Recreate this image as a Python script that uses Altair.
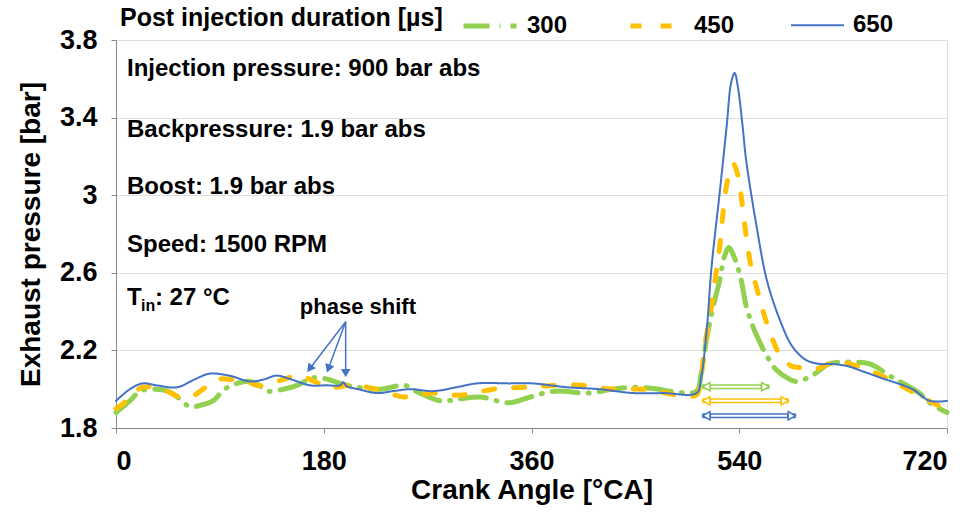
import math
import altair as alt
import pandas as pd

# Exhaust pressure [bar] vs crank angle [°CA], one trace per post-injection duration
ca_300 = [0, 12, 21, 34, 45, 53, 64, 75, 84, 94, 105, 116, 124, 131, 145, 157, 172, 184, 194,
          209, 229, 250, 260, 281, 298, 315, 341, 359, 380, 409, 430, 451, 470, 480, 503,
          507, 512, 518, 523, 527, 531, 535, 541, 546, 552, 558, 564, 572, 584, 590, 603,
          618, 638, 653, 673, 696, 705, 720]
p_300 = [1.88, 1.94, 1.99, 2.00, 1.99, 1.96, 1.91, 1.92, 1.94, 2.00, 2.03, 2.04, 2.02, 1.99,
         2.00, 2.02, 2.06, 2.05, 2.03, 2.01, 2.00, 2.02, 1.99, 1.94, 1.95, 1.96, 1.93, 1.96,
         1.99, 1.98, 2.00, 2.01, 2.00, 1.99, 1.99, 2.08, 2.27, 2.44, 2.56, 2.68, 2.73, 2.69,
         2.58, 2.43, 2.32, 2.24, 2.17, 2.10, 2.05, 2.04, 2.07, 2.13, 2.14, 2.13, 2.06, 1.98,
         1.93, 1.88]

ca_450 = [0, 7, 15, 23, 33, 44, 55, 65, 73, 88, 100, 113, 122, 129, 145, 159, 172, 185, 204,
          226, 249, 262, 275, 288, 301, 327, 354, 382, 404, 430, 458, 486, 503, 506, 510, 515,
          519, 523, 526, 530, 535, 538, 542, 546, 550, 558, 565, 575, 585, 595, 604, 624, 647,
          670, 689, 711, 720]
p_450 = [1.90, 1.93, 1.98, 2.01, 2.01, 1.99, 1.96, 1.96, 1.99, 2.05, 2.05, 2.04, 2.02, 2.02,
         2.05, 2.07, 2.04, 2.01, 2.02, 2.00, 1.96, 1.97, 1.98, 1.97, 1.97, 2.00, 2.01, 2.02,
         2.02, 2.00, 2.00, 1.97, 1.97, 2.02, 2.22, 2.39, 2.56, 2.73, 2.91, 3.08, 3.16, 3.12,
         2.98, 2.79, 2.64, 2.46, 2.32, 2.18, 2.12, 2.11, 2.10, 2.14, 2.11, 2.05, 1.99, 1.92,
         1.90]

ca_650 = [0, 12, 23, 35, 53, 68, 81, 98, 116, 128, 139, 152, 168, 182, 194, 197, 200, 210,
          226, 240, 255, 275, 295, 313, 341, 361, 376, 391, 419, 448, 475, 503, 507, 512, 516,
          523, 529, 533, 536, 539, 543, 546, 555, 564, 575, 586, 598, 610, 620, 633, 648, 662,
          690, 705, 720]
p_650 = [1.94, 2.00, 2.03, 2.02, 2.01, 2.05, 2.08, 2.07, 2.04, 2.05, 2.07, 2.05, 2.02, 2.02,
         2.02, 2.035, 2.015, 2.00, 1.98, 1.99, 2.00, 1.99, 2.01, 2.03, 2.03, 2.03, 2.02, 2.01,
         2.00, 1.98, 1.98, 1.98, 2.06, 2.32, 2.63, 3.01, 3.35, 3.58, 3.63, 3.55, 3.35, 3.18,
         2.84, 2.56, 2.36, 2.22, 2.15, 2.13, 2.13, 2.12, 2.09, 2.06, 2.00, 1.94, 1.94]

durations = ["300", "450", "650"]
line_colors = ["#92D050", "#FFC000", "#4472C4"]
line_dashes = [[26, 10, 1, 10], [11, 19], [1, 0]]
line_widths = [5, 5, 2]

# Double arrows under the peak: span of the post-injection pressure event
span_start = [508, 508, 508]
span_end = [566, 583, 589]
span_level = [2.013, 1.94, 1.863]

# "phase shift" callout arrows
shift_tail_ca, shift_tail_p = 199.0, 2.348
shift_tip_ca = [165.2, 182.5, 199.0]
shift_tip_p = [2.085, 2.082, 2.057]
shift_label_ca, shift_label_p = 209.6, 2.424

# Operating conditions
notes = ["Injection pressure: 900 bar abs", "Backpressure: 1.9 bar abs",
         "Boost: 1.9 bar abs", "Speed: 1500 RPM"]
note_p = [3.65, 3.336, 3.04, 2.743]
note_ca = 9.5
tin_p = 2.469

FONT = "Liberation Sans"
W, H = 831, 388
CA_DOM = [0, 720]
P_DOM = [1.8, 3.8]
px_per_ca = W / (CA_DOM[1] - CA_DOM[0])
px_per_p = H / (P_DOM[1] - P_DOM[0])

xs = alt.Scale(domain=CA_DOM, nice=False, zero=False)
ys = alt.Scale(domain=P_DOM, nice=False, zero=False)
x_axis = alt.Axis(values=[0, 180, 360, 540, 720], title="Crank Angle [°CA]", grid=False,
                  labelFontSize=27, labelPadding=15, titleFontSize=28, titlePadding=2,
                  labelFontWeight="bold", titleFontWeight="bold", labelFont=FONT, titleFont=FONT)
y_axis = alt.Axis(values=[1.8, 2.2, 2.6, 3.0, 3.4, 3.8], format="~g",
                  title="Exhaust pressure [bar]", grid=True, labelFontSize=27,
                  labelPadding=14, titleFontSize=28, titlePadding=14,
                  labelFontWeight="bold", titleFontWeight="bold", labelFont=FONT, titleFont=FONT)


def X(field):
    return alt.X(field, type="quantitative", scale=xs, axis=x_axis)


def Y(field):
    return alt.Y(field, type="quantitative", scale=ys, axis=y_axis)


rows = []
for name, cas, ps in zip(durations, [ca_300, ca_450, ca_650], [p_300, p_450, p_650]):
    for a, p in zip(cas, ps):
        rows.append({"ca": a, "p": p, "dur": name})
traces = pd.DataFrame(rows)

legend = alt.Legend(
    title="Post injection duration [µs]", orient="none", legendX=4, legendY=-43,
    direction="horizontal", titleOrient="left", titleFontSize=25, titlePadding=18,
    titleLimit=600, labelLimit=200,
    labelFontSize=24, labelOffset=8, columnPadding=52, symbolType="stroke",
    symbolSize=2800, titleFont=FONT, labelFont=FONT, titleFontWeight="bold",
    labelFontWeight="bold", titleColor="black", labelColor="black",
    titleBaseline="middle", titleAnchor="middle",
)

lines = alt.Chart(traces).mark_line(interpolate="catmull-rom", strokeCap="round",
                                     strokeJoin="round").encode(
    x=X("ca"),
    y=Y("p"),
    color=alt.Color("dur:N", scale=alt.Scale(domain=durations, range=line_colors),
                    legend=legend),
    strokeDash=alt.StrokeDash("dur:N", scale=alt.Scale(domain=durations, range=line_dashes),
                              legend=legend),
    strokeWidth=alt.StrokeWidth("dur:N", scale=alt.Scale(type="ordinal", domain=durations,
                                                         range=line_widths),
                                legend=legend),
    detail="dur:N",
)

layers = [lines]

# hollow double-headed arrows
head_off = 4 / px_per_ca
for s, e, lvl, c in zip(span_start, span_end, span_level, line_colors):
    d = pd.DataFrame({"ca": [s], "ca2": [e], "p": [lvl]})
    heads = pd.DataFrame({"ca": [s + head_off, e - head_off], "p": [lvl, lvl],
                          "side": ["triangle-left", "triangle-right"]})
    inner = pd.DataFrame({"ca": [s + 2.2 * head_off], "ca2": [e - 2.2 * head_off], "p": [lvl]})
    layers.append(alt.Chart(d).mark_rule(strokeWidth=5, color=c).encode(
        x=X("ca"), x2="ca2", y=Y("p")))
    layers.append(alt.Chart(heads).mark_point(filled=True, fill="white", stroke=c,
                                              strokeWidth=1.5, size=70, opacity=1).encode(
        x=X("ca"), y=Y("p"), shape=alt.Shape("side:N", scale=None)))
    layers.append(alt.Chart(inner).mark_rule(strokeWidth=2, color="white").encode(
        x=X("ca"), x2="ca2", y=Y("p")))

# phase shift arrows
shaft_rows, head_rows = [], []
for tc, tp in zip(shift_tip_ca, shift_tip_p):
    dx = (tc - shift_tail_ca) * px_per_ca
    dy = -(tp - shift_tail_p) * px_per_p
    L = math.hypot(dx, dy)
    hc = tc - dx / L * 5 / px_per_ca
    hp = tp + dy / L * 5 / px_per_p
    ang = math.degrees(math.atan2(dx, -dy)) % 360
    shaft_rows.append({"ca": shift_tail_ca, "p": shift_tail_p, "ca2": hc, "p2": hp})
    head_rows.append({"ca": hc, "p": hp, "ang": ang})

layers.append(alt.Chart(pd.DataFrame(shaft_rows)).mark_rule(strokeWidth=1.5, color="#4472C4").encode(
    x=X("ca"), y=Y("p"), x2="ca2", y2="p2"))
layers.append(alt.Chart(pd.DataFrame(head_rows)).mark_point(
    shape="triangle-up", filled=True, color="#4472C4", size=90, opacity=1).encode(
    x=X("ca"), y=Y("p"), angle=alt.Angle("ang:Q", scale=None)))

text_style = dict(font=FONT, fontWeight="bold", color="black", baseline="middle")
layers.append(alt.Chart(pd.DataFrame({"ca": [shift_label_ca], "p": [shift_label_p],
                                      "t": ["phase shift"]})).mark_text(
    align="center", fontSize=22, **text_style).encode(x=X("ca"), y=Y("p"), text="t:N"))

layers.append(alt.Chart(pd.DataFrame({"ca": [note_ca] * len(notes), "p": note_p,
                                      "t": notes})).mark_text(
    align="left", fontSize=24, **text_style).encode(x=X("ca"), y=Y("p"), text="t:N"))

tin = pd.DataFrame({"ca": [note_ca], "p": [tin_p]})
layers.append(alt.Chart(tin).mark_text(align="left", fontSize=24, text="T", **text_style).encode(
    x=X("ca"), y=Y("p")))
layers.append(alt.Chart(tin).mark_text(align="left", fontSize=16, text="in", dx=14, dy=8,
                                       **text_style).encode(x=X("ca"), y=Y("p")))
layers.append(alt.Chart(tin).mark_text(align="left", fontSize=24, text=": 27 °C", dx=28,
                                       **text_style).encode(x=X("ca"), y=Y("p")))

chart = alt.layer(*layers).properties(
    width=W, height=H,
    autosize=alt.AutoSizeParams(type="none"),
    padding={"left": 116, "top": 40, "right": 30, "bottom": 93},
).configure_view(
    stroke="black", strokeWidth=3,
).configure_axis(
    domainColor="black", domainWidth=3, tickColor="black", tickWidth=3, tickSize=8,
    labelFont=FONT, titleFont=FONT, labelFontWeight="bold", titleFontWeight="bold",
    labelColor="black", titleColor="black", gridColor="#D9D9D9", gridWidth=2.5,
).configure(background="white")

chart.save("out.html", embed_options={"renderer": "svg", "actions": False})
